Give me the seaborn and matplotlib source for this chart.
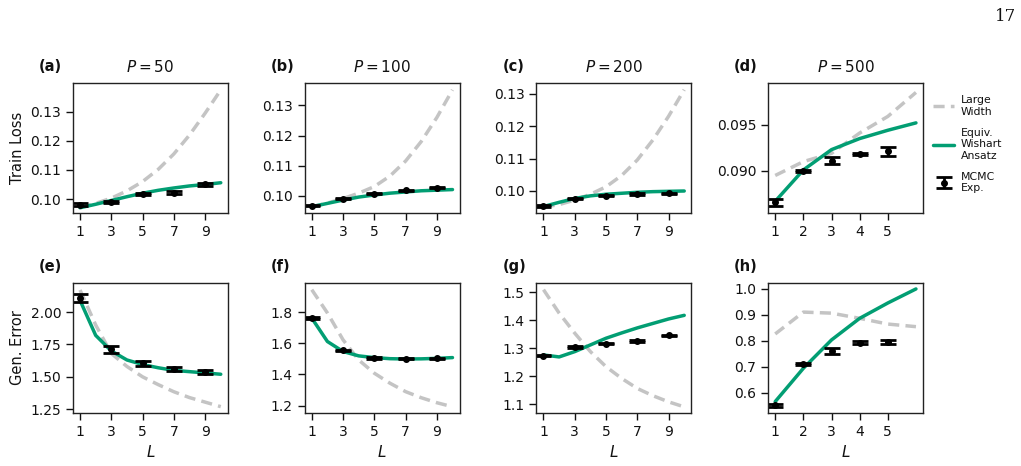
import numpy as np
import pandas as pd
import matplotlib
matplotlib.use("Agg")
import matplotlib.pyplot as plt
from matplotlib.ticker import MultipleLocator
import seaborn as sns

# ---- data ----
L_long = [1, 2, 3, 4, 5, 6, 7, 8, 9, 10]
L_short = [1, 2, 3, 4, 5, 6]
L_mc_long = [1, 3, 5, 7, 9]
L_mc_short = [1, 2, 3, 4, 5]

titles = ["$P = 50$", "$P = 100$", "$P = 200$", "$P = 500$"]
letters = ["(a)", "(b)", "(c)", "(d)", "(e)", "(f)", "(g)", "(h)"]

# train loss: large width (dashed), Wishart ansatz (green), MCMC mean and err
train_lw = [
    [0.0972, 0.0985, 0.1003, 0.1028, 0.1060, 0.1102, 0.1155, 0.1220, 0.1295, 0.1375],
    [0.0963, 0.0975, 0.0990, 0.1008, 0.1030, 0.1065, 0.1115, 0.1180, 0.1260, 0.1352],
    [0.0950, 0.0958, 0.0972, 0.0990, 0.1013, 0.1048, 0.1096, 0.1158, 0.1231, 0.1313],
    [0.0895, 0.0910, 0.0919, 0.0941, 0.0959, 0.0985],
]
train_ew = [
    [0.0970, 0.0982, 0.0995, 0.1008, 0.1020, 0.1030, 0.1038, 0.1045, 0.1050, 0.1056],
    [0.0963, 0.0974, 0.0985, 0.0995, 0.1002, 0.1008, 0.1012, 0.1016, 0.1018, 0.1020],
    [0.0952, 0.0965, 0.0977, 0.0985, 0.0990, 0.0993, 0.0996, 0.0998, 0.0999, 0.1000],
    [0.0867, 0.0901, 0.0923, 0.0935, 0.0944, 0.0952],
]
train_mc = [
    [0.0981, 0.0990, 0.1017, 0.1022, 0.1050],
    [0.0966, 0.0989, 0.1006, 0.1017, 0.1026],
    [0.0954, 0.0976, 0.0986, 0.0991, 0.0993],
    [0.0866, 0.0900, 0.0911, 0.0918, 0.0921],
]
train_mc_err = [
    [0.0005, 0.0004, 0.0004, 0.0004, 0.0004],
    [0.0002, 0.0002, 0.0002, 0.0002, 0.0002],
    [0.0002, 0.0002, 0.0002, 0.0002, 0.0002],
    [0.00036, 0.0001, 0.0004, 0.0001, 0.00045],
]

# generalisation error
gen_lw = [
    [2.17, 1.90, 1.68, 1.58, 1.50, 1.44, 1.385, 1.34, 1.305, 1.27],
    [1.943, 1.794, 1.622, 1.493, 1.408, 1.344, 1.29, 1.251, 1.219, 1.193],
    [1.510, 1.426, 1.354, 1.288, 1.234, 1.192, 1.156, 1.130, 1.108, 1.090],
    [0.826, 0.910, 0.906, 0.886, 0.864, 0.854],
]
gen_ew = [
    [2.09, 1.82, 1.70, 1.63, 1.595, 1.57, 1.55, 1.54, 1.53, 1.52],
    [1.761, 1.611, 1.547, 1.519, 1.508, 1.501, 1.499, 1.500, 1.503, 1.508],
    [1.276, 1.269, 1.288, 1.312, 1.336, 1.355, 1.373, 1.389, 1.405, 1.418],
    [0.566, 0.694, 0.803, 0.886, 0.945, 0.999],
]
gen_mc = [
    [2.108, 1.712, 1.603, 1.559, 1.538],
    [1.761, 1.554, 1.505, 1.500, 1.503],
    [1.274, 1.305, 1.317, 1.325, 1.346],
    [0.551, 0.710, 0.761, 0.793, 0.795],
]
gen_mc_err = [
    [0.032, 0.027, 0.020, 0.015, 0.018],
    [0.004, 0.004, 0.004, 0.004, 0.004],
    [0.003, 0.003, 0.003, 0.003, 0.003],
    [0.006, 0.004, 0.012, 0.004, 0.008],
]

# axis limits / tick steps per panel
ylims_top = [(0.0952, 0.1399), (0.0942, 0.1375), (0.0932, 0.1334), (0.08543, 0.09953)]
ylims_bot = [(1.221, 2.224), (1.153, 1.986), (1.068, 1.534), (0.522, 1.022)]
ystep_top = [0.01, 0.01, 0.01, 0.005]
ystep_bot = [0.25, 0.2, 0.1, 0.1]

green = sns.color_palette("colorblind")[2]
grey = "#c4c4c4"
ink = "#111111"

sns.set_theme(style="ticks")
plt.rcParams["font.family"] = ["DejaVu Sans"]
plt.rcParams.update({"text.color": ink, "axes.labelcolor": ink,
                     "xtick.color": ink, "ytick.color": ink})

fig, axes = plt.subplots(2, 4, figsize=(10.21, 4.66), dpi=100)
fig.subplots_adjust(left=0.0715, right=0.904, bottom=0.1137, top=0.822,
                    wspace=0.497, hspace=0.538)

rows = [(train_lw, train_ew, train_mc, train_mc_err, ylims_top, ystep_top),
        (gen_lw, gen_ew, gen_mc, gen_mc_err, ylims_bot, ystep_bot)]

for r, (lw, ew, mc, mce, ylims, ysteps) in enumerate(rows):
    for c in range(4):
        ax = axes[r, c]
        xs = L_long if c < 3 else L_short
        xm = L_mc_long if c < 3 else L_mc_short
        df = pd.DataFrame({"L": xs, "lw": lw[c], "ew": ew[c]})
        sns.lineplot(data=df, x="L", y="lw", ax=ax, color=grey, lw=2.5,
                     dashes=False, linestyle=(0, (3.2, 1.8)), label="Large\nWidth")
        sns.lineplot(data=df, x="L", y="ew", ax=ax, color=green, lw=2.5,
                     label="Equiv.\nWishart\nAnsatz")
        ax.errorbar(xm, mc[c], yerr=mce[c], fmt="o", color="black", ms=4,
                    elinewidth=2, capsize=5.5, capthick=2, label="MCMC\nExp.")
        ax.set_ylim(*ylims[c])
        ax.yaxis.set_major_locator(MultipleLocator(ysteps[c]))
        ax.set_xticks(xm)
        ax.tick_params(labelsize=10, length=5, width=1, color=ink)
        for sp in ax.spines.values():
            sp.set_color("#222222")
            sp.set_linewidth(1)
        ax.set_ylabel("")
        ax.set_xlabel("$L$" if r == 1 else "", fontsize=11)
        ax.text(-0.22, 1.13, letters[r * 4 + c], transform=ax.transAxes,
                fontsize=10.5, fontweight="bold", ha="left", va="center")
        if r == 0:
            ax.set_title(titles[c], fontsize=11, pad=8)
        leg = ax.get_legend()
        if leg is not None:
            leg.remove()

axes[0, 0].set_ylabel("Train Loss", fontsize=10.5)
axes[1, 0].set_ylabel("Gen. Error", fontsize=10.5)

handles, labels = axes[0, 3].get_legend_handles_labels()
axes[0, 3].legend(handles, labels, loc="upper left", bbox_to_anchor=(1.0, 0.98),
                  frameon=False, fontsize=7.8, handlelength=2.0, labelspacing=1.0,
                  handletextpad=0.6)

fig.text(0.995, 0.965, "17", family="DejaVu Serif", fontsize=12, ha="right", va="center")

fig.savefig("out.png", dpi=100)
